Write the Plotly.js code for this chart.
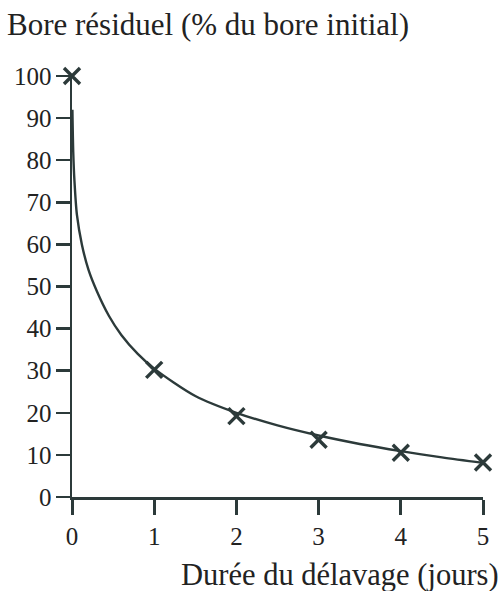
<!DOCTYPE html>
<html>
<head>
<meta charset="utf-8">
<script src="https://cdn.plot.ly/plotly-3.0.1.min.js"></script>
<style>html,body{margin:0;padding:0;background:#fff;}#chart{width:504px;height:591px;}</style>
</head>
<body>
<div id="chart"></div>
<script>
// Measured points (crosses)
const pointDays = [0, 1, 2, 3, 4, 5];
const pointBore = [100, 30.2, 19.2, 13.6, 10.5, 8.2];
// Fitted curve
const curveDays = [0.005, 0.015, 0.03, 0.06, 0.12, 0.2, 0.3, 0.45, 0.6, 0.8, 1, 1.5, 2, 2.5, 3, 3.5, 4, 4.5, 5];
const curveBore = [92, 82, 75, 67, 60, 54, 49, 43, 38.5, 34, 30.5, 24, 20, 17, 14.6, 12.6, 10.9, 9.4, 8.1];
const xTicks = [0, 1, 2, 3, 4, 5];
const yTicks = [0, 10, 20, 30, 40, 50, 60, 70, 80, 90, 100];

const ink = '#2c3a3a';
const serif = 'Liberation Serif, Times New Roman, serif';

const traces = [
  {x: curveDays, y: curveBore, type: 'scatter', mode: 'lines',
   line: {color: ink, width: 2.4, shape: 'spline', smoothing: 0.8}, cliponaxis: false, hoverinfo: 'skip'},
  {x: pointDays, y: pointBore, type: 'scatter', mode: 'markers',
   marker: {symbol: 'x-thin', size: 16, line: {color: ink, width: 3.4}, color: ink}, cliponaxis: false}
];

const layout = {
  width: 504, height: 591,
  margin: {l: 72, r: 21, t: 76, b: 94},
  paper_bgcolor: '#fff', plot_bgcolor: '#fff',
  showlegend: false,
  font: {family: serif, color: '#222', size: 25},
  title: {text: 'Bore résiduel (% du bore initial)', font: {family: serif, size: 31, color: '#222'},
          x: 7/504, xref: 'container', xanchor: 'left', y: 1 - 24/591, yref: 'container', yanchor: 'middle'},
  xaxis: {range: [0, 5], tickvals: xTicks, ticktext: xTicks.map(String), showgrid: false, zeroline: false,
          showline: true, linecolor: ink, linewidth: 2.5, ticks: 'outside', ticklen: 15, tickwidth: 3, tickcolor: ink,
          tickfont: {family: serif, size: 25, color: '#222'}},
  yaxis: {range: [0, 100], tickvals: yTicks, ticktext: yTicks.map(String), showgrid: false, zeroline: false,
          showline: true, linecolor: ink, linewidth: 2.5, ticks: 'outside', ticklen: 14, tickwidth: 2.5, tickcolor: ink,
          tickfont: {family: serif, size: 25, color: '#222'}, ticklabelstandoff: -1},
  annotations: [
    {text: 'Durée du délavage (jours)', xref: 'paper', yref: 'paper', x: 1 + 18/411, y: -(575-497)/421,
     xanchor: 'right', yanchor: 'middle', showarrow: false, font: {family: serif, size: 30.5, color: '#222'}}
  ]
};

Plotly.newPlot('chart', traces, layout, {staticPlot: true, displayModeBar: false});
</script>
</body>
</html>
